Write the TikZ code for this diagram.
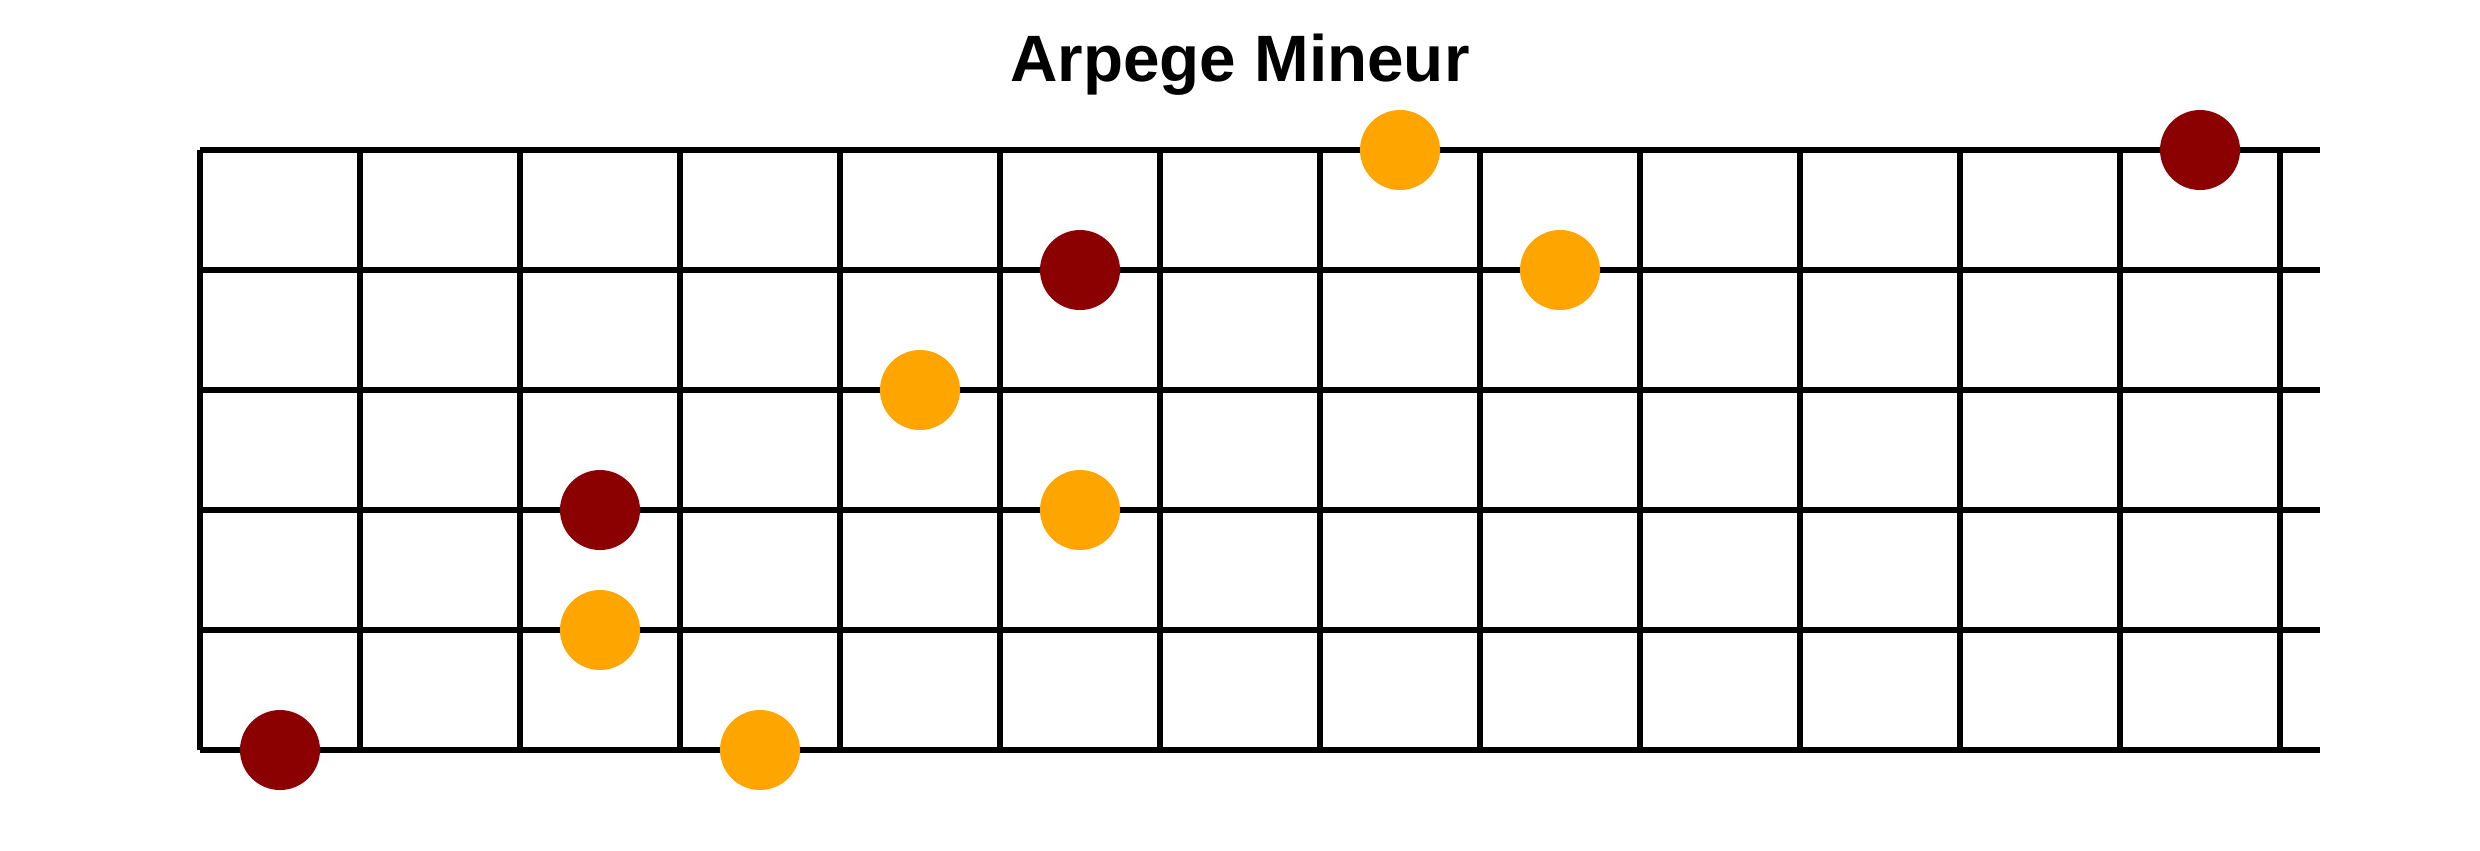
\documentclass[tikz,border=0pt]{standalone}
\usepackage{fontspec}
\setmainfont{Liberation Sans}
\definecolor{rootred}{HTML}{8B0000}
\definecolor{noteorange}{HTML}{FFA500}
\begin{document}
\begin{tikzpicture}[x=0.25pt,y=-0.25pt,
  gridline/.style={line width=1.5pt,black},
  rootdot/.style={circle,fill=rootred,inner sep=0pt,minimum size=20pt},
  notedot/.style={circle,fill=noteorange,inner sep=0pt,minimum size=20pt},
  titletext/.style={font=\fontsize{16.4pt}{20pt}\selectfont\bfseries,anchor=base,inner sep=0pt}]
\useasboundingbox (0,0) rectangle (2480,850);
% strings
\foreach \s in {0,...,5}
  \draw[gridline] (200,{150+120*\s}) -- (2320,{150+120*\s});
% frets
\foreach \f in {0,...,13}
  \draw[gridline] ({200+160*\f},150) -- ({200+160*\f},750);
% title
\node[titletext] (title) at (1240,81) {Arpege Mineur};
% notes
\node[rootdot] (r1) at (280,750) {};
\node[notedot] (n1) at (760,750) {};
\node[notedot] (n2) at (600,630) {};
\node[rootdot] (r2) at (600,510) {};
\node[notedot] (n3) at (920,390) {};
\node[notedot] (n4) at (1080,510) {};
\node[rootdot] (r3) at (1080,270) {};
\node[notedot] (n5) at (1400,150) {};
\node[notedot] (n6) at (1560,270) {};
\node[rootdot] (r4) at (2200,150) {};
\end{tikzpicture}
\end{document}
